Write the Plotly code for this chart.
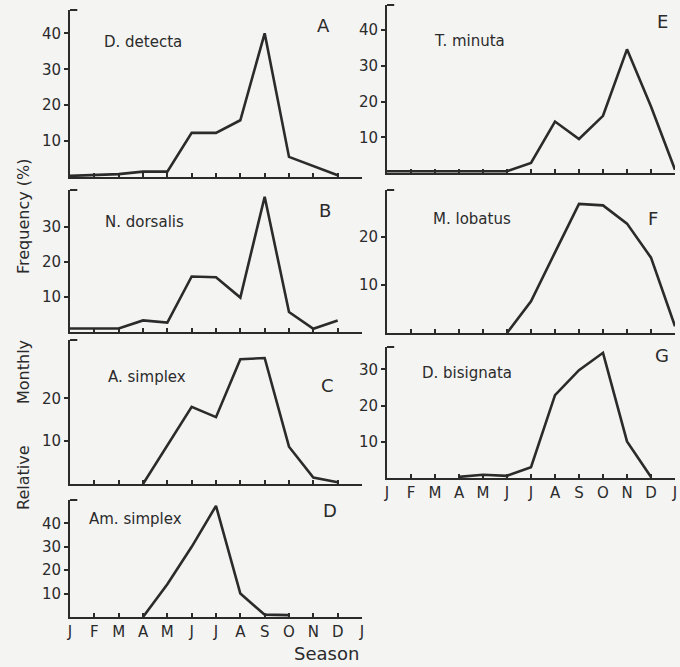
import plotly.graph_objects as go

W, H = 680, 667

month_labels = ["J", "F", "M", "A", "M", "J", "J", "A", "S", "O", "N", "D", "J"]
month_pos = list(range(13))

d_detecta = [0.3, 0.5, 0.8, 1.5, 1.5, 12.3, 12.3, 15.8, 40.0, 5.6, 3.0, 0.5, None]
n_dorsalis = [1.0, 1.0, 1.0, 3.3, 2.7, 15.8, 15.6, 9.8, 38.5, 5.7, 0.9, 3.3, None]
a_simplex = [None, None, None, 0.0, 9.1, 18.0, 15.6, 29.1, 29.4, 8.7, 1.5, 0.4, None]
am_simplex = [None, None, None, 0.0, 14.0, 30.0, 47.5, 10.0, 1.0, 0.8, None, None, None]
t_minuta = [0.5, 0.5, 0.5, 0.5, 0.5, 0.5, 2.8, 14.4, 9.5, 16.0, 34.6, 18.6, 0.9]
m_lobatus = [None, None, None, None, None, 0.0, 6.6, 16.8, 26.9, 26.6, 22.8, 15.7, 1.4]
d_bisignata = [None, None, None, 0.3, 0.9, 0.6, 3.0, 22.9, 29.8, 34.6, 10.1, 0.3, None]

# (letter, species, values, x-pixels [left,right], y-pixels [top,bottom], y-range top, y ticks,
#  show month labels, species label pos, letter pos)
panels = [
    ("A", "D. detecta", d_detecta, (70, 362), (10, 177), 46.5, [10, 20, 30, 40], False, (102, 42), (323, 25)),
    ("B", "N. dorsalis", n_dorsalis, (70, 362), (190, 332), 40.4, [10, 20, 30], False, (103, 222), (325, 210)),
    ("C", "A. simplex", a_simplex, (70, 362), (340, 484), 33.6, [10, 20], False, (106, 377), (327, 385)),
    ("D", "Am. simplex", am_simplex, (70, 362), (500, 617), 50.0, [10, 20, 30, 40], True, (87, 519), (330, 510)),
    ("E", "T. minuta", t_minuta, (387, 675), (5, 173), 47.0, [10, 20, 30, 40], False, (432, 41), (662, 22)),
    ("F", "M. lobatus", m_lobatus, (387, 675), (190, 333), 29.8, [10, 20, 30], False, (431, 219), (653, 218)),
    ("G", "D. bisignata", d_bisignata, (387, 675), (347, 478), 36.2, [10, 20, 30], True, (420, 373), (662, 355)),
]

FONT = "DejaVu Sans"
INK = "#2b2b2b"

fig = go.Figure()
layout = dict(
    width=W, height=H,
    margin=dict(l=0, r=0, t=0, b=0, autoexpand=False),
    paper_bgcolor="#f4f4f3",
    plot_bgcolor="#f4f4f3",
    showlegend=False,
    font=dict(family=FONT, color=INK),
)
annotations = []
shapes = []

for i, (letter, name, vals, xp, yp, ytop, yt, showx, spos, lpos) in enumerate(panels):
    n = i + 1
    xa = "x" if n == 1 else f"x{n}"
    ya = "y" if n == 1 else f"y{n}"
    fig.add_trace(go.Scatter(
        x=month_pos, y=vals, mode="lines",
        line=dict(color=INK, width=2.6),
        connectgaps=False, xaxis=xa, yaxis=ya, hoverinfo="skip",
        cliponaxis=False,
    ))
    xkey = "xaxis" if n == 1 else f"xaxis{n}"
    ykey = "yaxis" if n == 1 else f"yaxis{n}"
    layout[xkey] = dict(
        domain=[xp[0] / W, xp[1] / W], anchor=ya, automargin=False,
        range=[0, 12], showgrid=False, zeroline=False,
        showline=True, linecolor=INK, linewidth=2,
        ticks="inside", ticklen=4, tickwidth=1.5, tickcolor=INK,
        tickvals=month_pos, ticktext=month_labels,
        showticklabels=showx,
        tickfont=dict(family=FONT, size=15, color=INK),
    )
    layout[ykey] = dict(
        domain=[1 - yp[1] / H, 1 - yp[0] / H], anchor=xa, automargin=False,
        range=[0, ytop], showgrid=False, zeroline=False,
        showline=True, linecolor=INK, linewidth=2,
        ticks="outside", ticklen=4, tickwidth=1.5, tickcolor=INK,
        tickvals=yt, ticktext=[str(v) for v in yt],
        tickfont=dict(family=FONT, size=15, color=INK),
    )
    # small stub at top of y axis
    shapes.append(dict(type="line", xref=f"{xa} domain", yref=f"{ya} domain",
                       x0=0, x1=0.025, y0=1, y1=1, line=dict(color=INK, width=2)))
    annotations.append(dict(text=name, x=spos[0] / W, y=1 - spos[1] / H, xref="paper", yref="paper",
                            xanchor="left", yanchor="middle", showarrow=False,
                            font=dict(family=FONT, size=15, color=INK)))
    annotations.append(dict(text=letter, x=lpos[0] / W, y=1 - lpos[1] / H, xref="paper", yref="paper",
                            xanchor="center", yanchor="middle", showarrow=False,
                            font=dict(family=FONT, size=18, color=INK)))

# axis titles
annotations.append(dict(text="Season", x=361 / W, y=1 - 653 / H, xref="paper", yref="paper",
                        xanchor="right", yanchor="middle", showarrow=False,
                        font=dict(family=FONT, size=18, color=INK)))
for word, yc in [("Relative", 478), ("Monthly", 372), ("Frequency (%)", 217)]:
    annotations.append(dict(text=word, x=23 / W, y=1 - yc / H, xref="paper", yref="paper",
                            xanchor="center", yanchor="middle", textangle=-90, showarrow=False,
                            font=dict(family=FONT, size=16, color=INK)))

layout["annotations"] = annotations
layout["shapes"] = shapes
fig.update_layout(**layout)
fig.write_html(
    "out.html",
    config={"displayModeBar": False},
    post_script="document.body.style.margin='0px';document.body.style.overflow='hidden';",
)
